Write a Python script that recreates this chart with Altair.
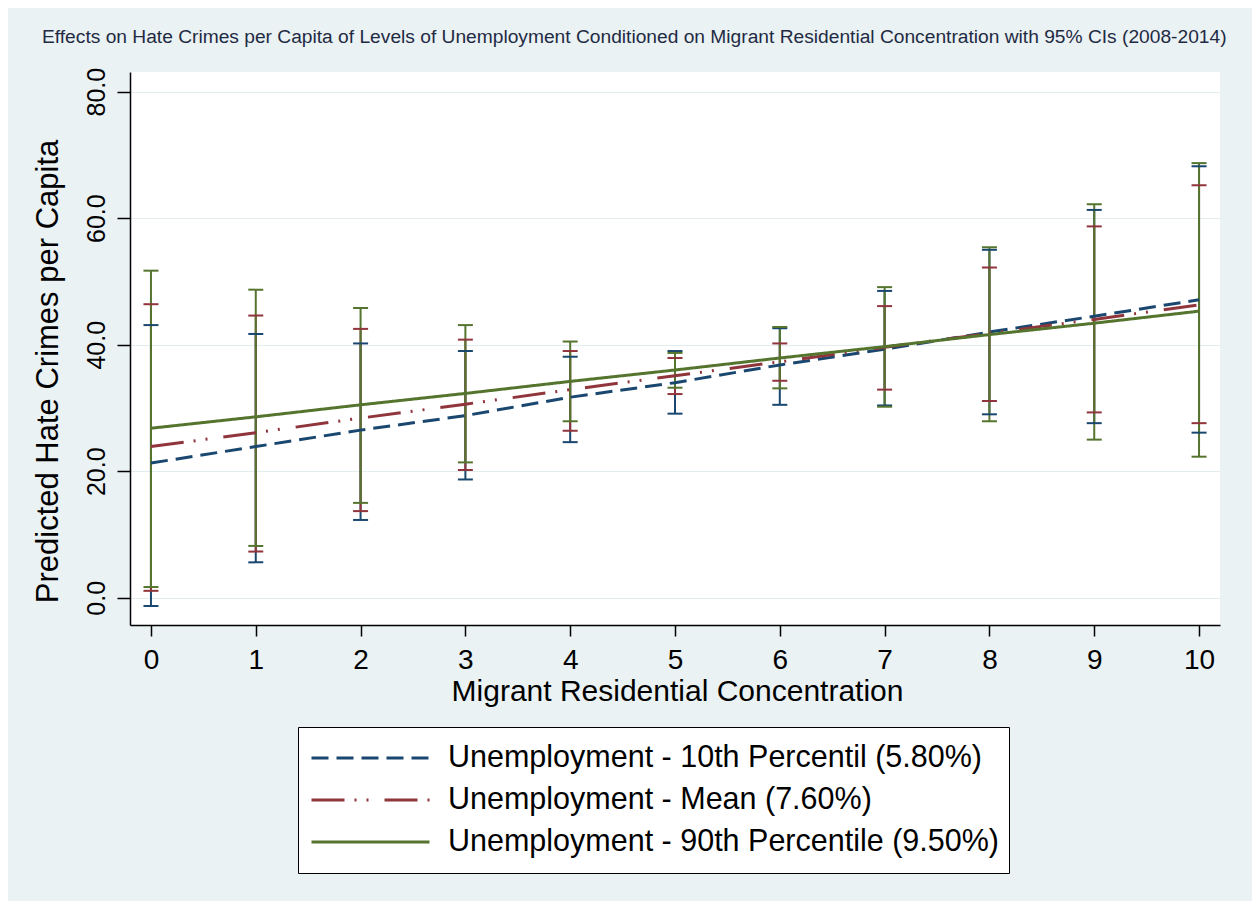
import altair as alt
import pandas as pd

# ---- data ----
conc = [0, 1, 2, 3, 4, 5, 6, 7, 8, 9, 10]

series_names = [
    "Unemployment - 10th Percentil (5.80%)",
    "Unemployment - Mean (7.60%)",
    "Unemployment - 90th Percentile (9.50%)",
]
series_colors = ["#1a476f", "#90353b", "#55752f"]
series_dashes = [[17, 8], [33, 10, 2, 10, 2, 16], [1, 0]]

p10_est = [21.3, 23.9, 26.5, 28.8, 31.7, 34.0, 36.8, 39.3, 42.0, 44.5, 47.1]
p10_lo = [-1.3, 5.6, 12.3, 18.7, 24.6, 29.1, 30.5, 30.4, 29.0, 27.6, 26.1]
p10_hi = [43.1, 41.7, 40.2, 39.0, 38.1, 39.0, 42.6, 48.5, 55.0, 61.3, 68.2]

mean_est = [23.9, 26.1, 28.4, 30.6, 32.9, 35.1, 37.3, 39.6, 41.8, 44.0, 46.3]
mean_lo = [1.1, 7.3, 13.7, 20.2, 26.4, 32.2, 34.3, 32.9, 31.1, 29.3, 27.6]
mean_hi = [46.4, 44.6, 42.5, 40.8, 39.0, 37.9, 40.2, 46.1, 52.2, 58.7, 65.2]

p90_est = [26.8, 28.6, 30.5, 32.3, 34.2, 36.0, 37.9, 39.7, 41.6, 43.4, 45.3]
p90_lo = [1.7, 8.2, 15.0, 21.4, 27.9, 33.2, 33.1, 30.2, 27.9, 25.0, 22.3]
p90_hi = [51.7, 48.7, 45.8, 43.1, 40.5, 38.7, 42.8, 49.1, 55.4, 62.2, 68.7]

y_ticks = [0, 20, 40, 60, 80]

title_text = ("Effects on Hate Crimes per Capita of Levels of Unemployment Conditioned on "
              "Migrant Residential Concentration with 95% CIs (2008-2014)")

# ---- long table ----
rows = []
for name, est, lo, hi in zip(series_names,
                             [p10_est, mean_est, p90_est],
                             [p10_lo, mean_lo, p90_lo],
                             [p10_hi, mean_hi, p90_hi]):
    for xv, e, l, h in zip(conc, est, lo, hi):
        rows.append({"x": xv, "series": name, "est": e, "lo": l, "hi": h})
df = pd.DataFrame(rows)

FONT = "Liberation Sans"

legend = alt.Legend(
    title=None, orient="none", legendX=168, legendY=655, direction="vertical",
    symbolType="stroke", symbolSize=118 * 118, symbolStrokeWidth=3,
    labelFontSize=30.5, labelFont=FONT, labelColor="black", labelLimit=900,
    labelOffset=17, padding=10, fillColor="white", strokeColor="black",
    clipHeight=42, rowPadding=0, symbolOffset=2,
)

xscale = alt.Scale(domain=[-0.2, 10.2], nice=False, zero=False)
yscale = alt.Scale(domain=[-4.3, 83.1], nice=False, zero=False)

xenc = alt.X("x:Q", scale=xscale, axis=alt.Axis(
    values=conc, format="d", title="Migrant Residential Concentration",
    labelFontSize=28, labelFont=FONT, labelColor="black", labelPadding=10,
    tickSize=11, tickColor="black", tickWidth=1.5, domainColor="black", domainWidth=1.5,
    grid=False, titleFont=FONT, titleFontSize=30, titleFontWeight="normal",
    titleColor="black", titleX=547, titleY=66, titleBaseline="middle", titleAlign="center",
))
yaxis = alt.Axis(
    values=y_ticks, format=".1f", title="Predicted Hate Crimes per Capita",
    labelFontSize=25, labelFont=FONT, labelColor="black", labelAngle=270,
    labelAlign="center", labelBaseline="alphabetic", labelPadding=13,
    tickSize=13, tickColor="black", tickWidth=1.5, domainColor="black", domainWidth=1.5,
    grid=True, gridColor="#e3edef", gridWidth=1.2,
    titleFont=FONT, titleFontSize=31, titleFontWeight="normal", titleColor="black",
    titleAngle=270, titleX=-82, titleY=299, titleBaseline="middle", titleAlign="center",
)

color = alt.Color("series:N", scale=alt.Scale(domain=series_names, range=series_colors), legend=legend)
dash = alt.StrokeDash("series:N", scale=alt.Scale(domain=series_names, range=series_dashes), legend=legend)

base = alt.Chart(df)

ci = base.mark_rule(strokeWidth=2, opacity=1).encode(
    x=xenc, y=alt.Y("lo:Q", scale=yscale, axis=yaxis), y2="hi:Q", color=color)
cap_lo = base.mark_tick(orient="horizontal", size=15, thickness=2, opacity=1).encode(
    x="x:Q", y="lo:Q", color=color)
cap_hi = base.mark_tick(orient="horizontal", size=15, thickness=2, opacity=1).encode(
    x="x:Q", y="hi:Q", color=color)

lines = []
for name in series_names:
    lines.append(
        base.transform_filter(alt.datum.series == name)
        .mark_line(strokeWidth=3, opacity=1)
        .encode(x="x:Q", y="est:Q", color=color, strokeDash=dash)
    )

chart = alt.layer(ci, cap_lo, cap_hi, *lines).properties(
    width=1090, height=553,
    title=alt.Title(title_text, anchor="start", frame="group", dx=-88, offset=20,
                    fontSize=19.2, font=FONT, fontWeight="normal", color="#1f2a44"),
    padding={"left": 122, "top": 64, "right": 32, "bottom": 276},
    autosize=alt.AutoSizeParams(type="none"),
    background="#eaf2f3",
).configure_view(fill="white", strokeWidth=0)

chart.save("out.html", embed_options={"renderer": "svg", "actions": False})
